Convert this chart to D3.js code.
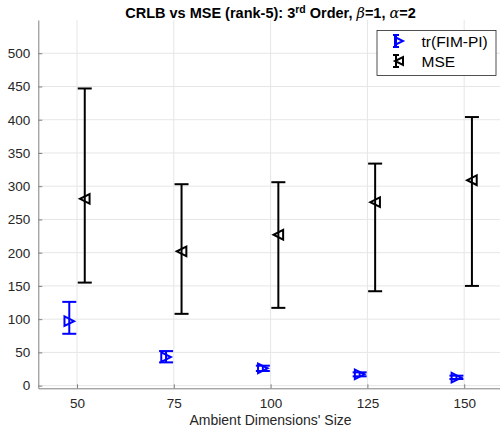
<!DOCTYPE html>
<html><head><meta charset="utf-8">
<script src="https://cdn.jsdelivr.net/npm/d3@7"></script>
<style>body{margin:0;background:#fff}svg{display:block}</style>
</head><body><svg id="c" width="500" height="436"></svg>
<script>
const dims = [50, 75, 100, 125, 150];
const crlb = [97, 43, 26, 17, 12];
const crlbLow = [78, 35, 22, 14, 10];
const crlbHigh = [126, 52, 30, 20, 15];
const mse = [281, 202, 227, 276, 309];
const mseLow = [155, 108, 117, 142, 150];
const mseHigh = [447, 303, 306, 334, 404];
const xTicks = [50, 75, 100, 125, 150];
const yTicks = [0, 50, 100, 150, 200, 250, 300, 350, 400, 450, 500];

const svg = d3.select("#c");
const font = "'Liberation Sans', Arial, Helvetica, sans-serif";
const x = d3.scaleLinear().domain([40, 160]).range([38.3, 502.9]);
const y = d3.scaleLinear().domain([-4, 550]).range([388.3, 20]);

// grid
const g = svg.append("g");
g.selectAll(".gx").data(xTicks).join("line")
  .attr("x1", d => x(d)).attr("x2", d => x(d)).attr("y1", y(-4)).attr("y2", y(550))
  .attr("stroke", "#e6e6e6").attr("stroke-width", 1);
g.selectAll(".gy").data(yTicks).join("line")
  .attr("x1", x(40)).attr("x2", x(160)).attr("y1", d => y(d)).attr("y2", d => y(d))
  .attr("stroke", "#e6e6e6").attr("stroke-width", 1);

// axes
const xAxis = d3.axisBottom(x).tickValues(xTicks).tickSizeInner(-4).tickSizeOuter(0).tickPadding(10);
const yAxis = d3.axisLeft(y).tickValues(yTicks).tickSizeInner(-4).tickSizeOuter(0).tickPadding(8);
const ax = svg.append("g").attr("transform", `translate(0,${y(-4)})`).call(xAxis);
const ay = svg.append("g").attr("transform", `translate(${x(40)},0)`).call(yAxis);
[ax, ay].forEach(a => {
  a.select(".domain").attr("stroke", "#808080").attr("stroke-width", 1);
  a.selectAll(".tick line").attr("stroke", "#808080");
  a.selectAll("text").attr("fill", "#262626").style("font-family", font).style("font-size", "13.5px");
});

function tri(dir, r) {
  return dir > 0 ? `M${-r},${-r}L${-r},${r}L${r},0Z` : `M${r},${-r}L${r},${r}L${-r},0Z`;
}

function series(vals, lo, hi, off, color, dir) {
  const gg = svg.append("g").attr("stroke", color).attr("stroke-width", 2).attr("fill", "none");
  dims.forEach((d, i) => {
    const cx = x(d + off);
    gg.append("line").attr("x1", cx).attr("x2", cx).attr("y1", y(lo[i])).attr("y2", y(hi[i]));
    gg.append("line").attr("x1", cx - 7).attr("x2", cx + 7).attr("y1", y(lo[i])).attr("y2", y(lo[i]));
    gg.append("line").attr("x1", cx - 7).attr("x2", cx + 7).attr("y1", y(hi[i])).attr("y2", y(hi[i]));
    gg.append("path").attr("d", tri(dir, 4.8)).attr("transform", `translate(${cx},${y(vals[i])})`);
  });
}
series(crlb, crlbLow, crlbHigh, -2, "#0000ff", 1);
series(mse, mseLow, mseHigh, 2, "#000000", -1);

// title
const t = svg.append("text").attr("x", 270.5).attr("y", 18).attr("text-anchor", "middle")
  .style("font-family", font).style("font-size", "14.5px").style("font-weight", "bold").attr("fill", "#000");
t.append("tspan").text("CRLB vs MSE (rank-5): 3");
t.append("tspan").text("rd").attr("dy", -5).style("font-size", "10.5px");
t.append("tspan").text(" Order, ").attr("dy", 5);
t.append("tspan").text("β").style("font-style", "italic").style("font-weight", "normal").style("font-family", "'DejaVu Serif', serif");
t.append("tspan").text("=1, ");
t.append("tspan").text("α").style("font-style", "italic").style("font-weight", "normal").style("font-family", "'DejaVu Serif', serif");
t.append("tspan").text("=2");

// x label
svg.append("text").attr("x", 270.5).attr("y", 425).attr("text-anchor", "middle")
  .style("font-family", font).style("font-size", "14px").attr("fill", "#262626")
  .text("Ambient Dimensions' Size");

// legend
const lg = svg.append("g");
lg.append("rect").attr("x", 377).attr("y", 30.5).attr("width", 119).attr("height", 45)
  .attr("fill", "#fff").attr("stroke", "#262626").attr("stroke-width", 0.8);
const items = [{label: "tr(FIM-PI)", color: "#0000ff", dir: 1, yy: 41},
               {label: "MSE", color: "#000000", dir: -1, yy: 61}];
items.forEach(it => {
  const li = lg.append("g").attr("stroke", it.color).attr("stroke-width", 2).attr("fill", "none");
  const cx = 399;
  li.append("line").attr("x1", cx - 3).attr("x2", cx - 3).attr("y1", it.yy - 6).attr("y2", it.yy + 6);
  li.append("line").attr("x1", cx - 6).attr("x2", cx).attr("y1", it.yy - 6).attr("y2", it.yy - 6);
  li.append("line").attr("x1", cx - 6).attr("x2", cx).attr("y1", it.yy + 6).attr("y2", it.yy + 6);
  li.append("path").attr("d", tri(it.dir, 4)).attr("transform", `translate(${cx},${it.yy})`);
  lg.append("text").attr("x", 421.5).attr("y", it.yy + 5.5).style("font-family", font)
    .style("font-size", "15.5px").attr("fill", "#000").text(it.label);
});
</script></body></html>
